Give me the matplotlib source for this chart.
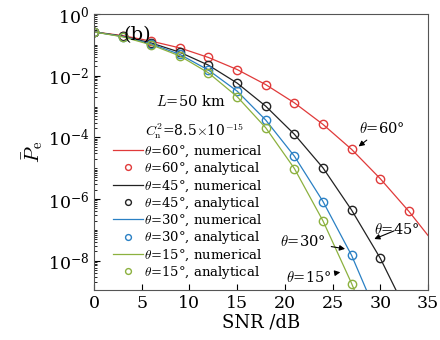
import numpy as np
import matplotlib
matplotlib.use("Agg")
import matplotlib.pyplot as plt
from matplotlib.ticker import FixedLocator, NullFormatter

plt.rcParams['font.family'] = ['DejaVu Serif']
plt.rcParams['mathtext.fontset'] = 'cm'

# SNR grid (dB) of analytical markers
snr = [0, 3, 6, 9, 12, 15, 18, 21, 24, 27, 30, 33]
# log10 of mean error probability, analytical points
log_pe_60 = [-0.58, -0.70, -0.88, -1.10, -1.41, -1.80, -2.29, -2.88, -3.58, -4.39, -5.34, -6.40]
log_pe_45 = [-0.58, -0.72, -0.94, -1.24, -1.66, -2.24, -2.99, -3.90, -4.99, -6.36, -7.92]
log_pe_30 = [-0.58, -0.73, -0.97, -1.31, -1.82, -2.50, -3.44, -4.61, -6.08, -7.83]
log_pe_15 = [-0.58, -0.74, -1.00, -1.36, -1.91, -2.68, -3.69, -5.01, -6.71, -8.74]

# numerical curves (same grid, extended to the plot edge)
snr_num_60 = snr + [35]
num_60 = log_pe_60 + [-7.18]
snr_num_45 = snr[:11] + [33]
num_45 = log_pe_45 + [-9.80]
snr_num_30 = snr[:10] + [30]
num_30 = log_pe_30 + [-10.0]
snr_num_15 = snr[:10] + [30]
num_15 = log_pe_15 + [-11.0]

labels = ['60', '45', '30', '15']
colors = ['#e03a3a', '#222222', '#2a80c4', '#8cb13f']

fig = plt.figure(figsize=(4.4, 3.4), dpi=100)
ax = fig.add_axes([0.2136, 0.147, 0.7591, 0.8118])

series = [
    (snr_num_60, num_60, snr[:12], log_pe_60),
    (snr_num_45, num_45, snr[:11], log_pe_45),
    (snr_num_30, num_30, snr[:10], log_pe_30),
    (snr_num_15, num_15, snr[:10], log_pe_15),
]
handles = []
for (xn, yn, xa, ya), lab, c in zip(series, labels, colors):
    h1, = ax.plot(xn, 10.0 ** np.array(yn), '-', color=c, lw=0.9,
                  label=r'$\theta$=' + lab + '°, numerical')
    h2, = ax.plot(xa, 10.0 ** np.array(ya), 'o', color=c, mfc='none', ms=6, mew=1.0,
                  label=r'$\theta$=' + lab + '°, analytical')
    handles += [h1, h2]

ax.set_yscale('log')
ax.set_xlim(0, 35)
ax.set_ylim(10 ** -8.95, 1)
ax.set_xticks(range(0, 36, 5))
ax.yaxis.set_major_locator(FixedLocator([1e0, 1e-2, 1e-4, 1e-6, 1e-8]))
minors = [m * 10.0 ** e for e in range(-9, 0) for m in range(1, 10)]
minors = [v for v in minors if v not in (1e0, 1e-2, 1e-4, 1e-6, 1e-8)]
ax.yaxis.set_minor_locator(FixedLocator(minors))
ax.yaxis.set_minor_formatter(NullFormatter())
ax.tick_params(which='both', direction='in', labelsize=12.5, top=False, right=False)
ax.tick_params(which='major', length=4)
ax.tick_params(which='minor', length=2)
for s in ax.spines.values():
    s.set_color('#555555')

ax.set_xlabel('SNR /dB', fontsize=13, labelpad=1)
ax.set_ylabel(r'$\bar{P}_{\rm e}$', fontsize=15, labelpad=2)

ax.text(0.13, 0.955, '(b)', transform=ax.transAxes, fontsize=14, ha='center', va='top')
ax.text(6.5, 10 ** -2.85, r'$L$=50 km', fontsize=10.5, ha='left', va='center')
ax.text(5.3, 10 ** -3.8, r'$C_{\rm n}^{2}$=8.5$\times$10$^{-15}$', fontsize=10, ha='left', va='center')

leg = ax.legend(handles=handles, loc='upper left', bbox_to_anchor=(0.04, 0.55),
                frameon=False, fontsize=9.5, handlelength=2.3, handletextpad=0.1,
                labelspacing=0.08, borderaxespad=0, markerscale=0.7)

arrow = dict(arrowstyle='-|>', color='black', lw=0.8, mutation_scale=8)
ax.annotate(r'$\theta$=60°', xy=(27.5, 10 ** -4.35), xytext=(30.2, 10 ** -3.7),
            fontsize=10.5, ha='center', va='center', arrowprops=arrow)
ax.annotate(r'$\theta$=45°', xy=(29.1, 10 ** -7.33), xytext=(31.7, 10 ** -7.0),
            fontsize=10.5, ha='center', va='center', arrowprops=arrow)
ax.annotate(r'$\theta$=30°', xy=(26.6, 10 ** -7.63), xytext=(21.9, 10 ** -7.39),
            fontsize=10.5, ha='center', va='center', arrowprops=arrow)
ax.annotate(r'$\theta$=15°', xy=(26.1, 10 ** -8.36), xytext=(22.5, 10 ** -8.54),
            fontsize=10.5, ha='center', va='center', arrowprops=arrow)

fig.savefig('out.png', dpi=100)
